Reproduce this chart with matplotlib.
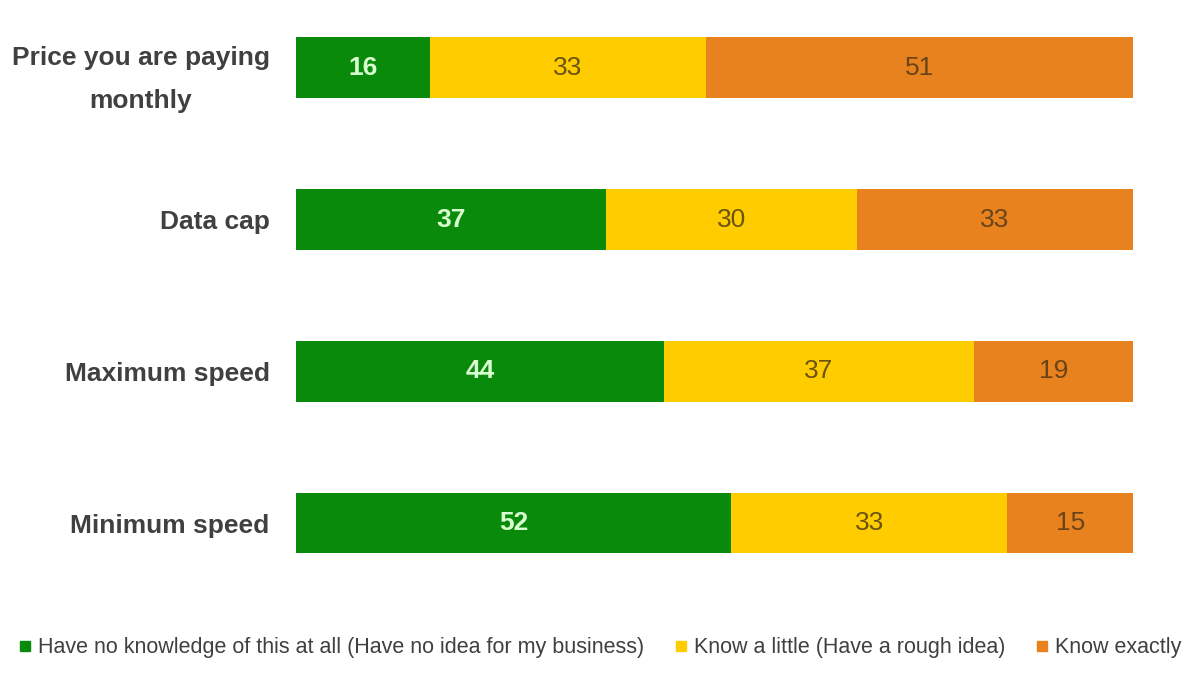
import matplotlib
matplotlib.use("Agg")
import matplotlib.pyplot as plt
import numpy as np

plt.rcParams['font.family'] = ['Liberation Sans', 'DejaVu Sans']

# data (top to bottom in the picture)
categories = ["Price you are paying\nmonthly", "Data cap", "Maximum speed", "Minimum speed"]
no_idea    = [16, 37, 44, 52]
a_little   = [33, 30, 37, 33]
exactly    = [51, 33, 19, 15]
series_labels = ["Have no knowledge of this at all (Have no idea for my business)",
                 "Know a little (Have a rough idea)",
                 "Know exactly"]

colors     = ["#0a8a0a", "#ffcc00", "#e8821e"]
textcolors = ["#d8ffd0", "#6a5410", "#6a4418"]

fig = plt.figure(figsize=(12, 6.77), dpi=100)
ax  = fig.add_axes([296/1200, 1 - 600/677, (1133 - 296)/1200, 600/677])

y = np.arange(len(categories))[::-1]
left = np.zeros(len(categories))
series = [no_idea, a_little, exactly]

for vals, col, tcol, lab in zip(series, colors, textcolors, series_labels):
    bars = ax.barh(y, vals, left=left, height=0.4, color=col, label=lab)
    for b, v in zip(bars, vals):
        ax.text(b.get_x() + b.get_width()/2, b.get_y() + b.get_height()/2, str(v),
                ha='center', va='center', fontsize=19, color=tcol,
                fontweight='bold' if col == colors[0] else 'normal')
    left += np.array(vals)

ax.set_xlim(0, 100)
ax.set_ylim(-0.507, 3.447)
ax.set_yticks(y)
ax.set_yticklabels(categories, fontsize=19, fontweight='bold', color='#404040',
                   ha='right', multialignment='center', linespacing=2.0)
ax.tick_params(axis='y', length=0, pad=19)
ax.set_xticks([])
for s in ax.spines.values():
    s.set_visible(False)

handles = [plt.Line2D([0], [0], marker='s', color='w', markerfacecolor=c,
                      markeredgecolor=c, markersize=7, label=l)
           for c, l in zip(colors, series_labels)]
fig.legend(handles=handles, loc='center', bbox_to_anchor=(0.5, 1 - 648/677), ncol=3,
           frameon=False, fontsize=15.5, handlelength=0.6, handletextpad=0.3,
           columnspacing=1.4, labelcolor='#404040')

plt.savefig("out.png", format="png")
